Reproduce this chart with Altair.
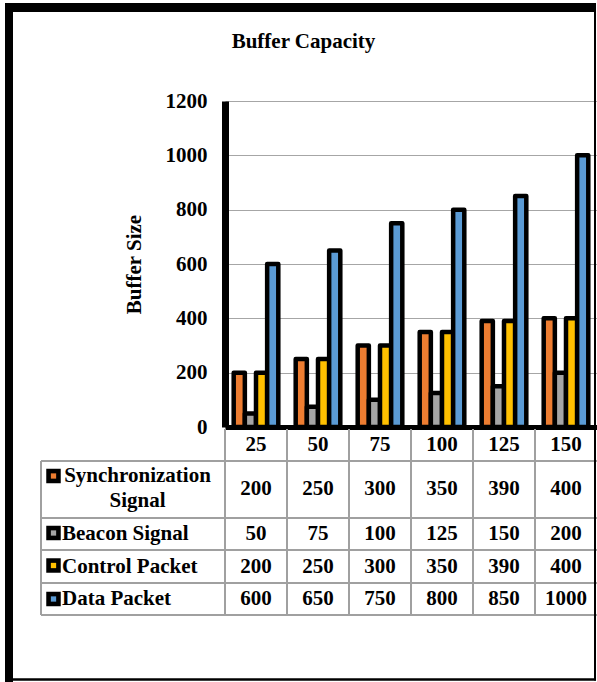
import altair as alt
import pandas as pd

# ---- data -------------------------------------------------------------
categories = ["25", "50", "75", "100", "125", "150"]
series_names = ["Synchronization Signal", "Beacon Signal", "Control Packet", "Data Packet"]
sync_signal = [200, 250, 300, 350, 390, 400]
beacon_signal = [50, 75, 100, 125, 150, 200]
control_packet = [200, 250, 300, 350, 390, 400]
data_packet = [600, 650, 750, 800, 850, 1000]
y_ticks = [0, 200, 400, 600, 800, 1000, 1200]
series_colors = ["#ED7D31", "#A5A5A5", "#FFC000", "#5B9BD5"]

# ---- layout -----------------------------------------------------------
FONT = "Liberation Serif"
FS = 21
W, H = 372, 326            # plot area
PAD_L, PAD_T = 225, 101    # plot origin inside the 597x682 page
TOTAL_W, TOTAL_H = 597, 682
TABLE_LINE = "#a0a0a0"

# data-table rows, in pixels from the plot top
row_center = {"Synchronization Signal": 387.5, "Beacon Signal": 433,
              "Control Packet": 465.5, "Data Packet": 498}
key_center = {"Synchronization Signal": 375, "Beacon Signal": 432,
              "Control Packet": 464.5, "Data Packet": 498}
row_label = {"Synchronization Signal": "Synchronization\nSignal"}
table_lines_y = [360, 417, 449, 482, 514]
table_left = 41 - PAD_L
key_x = 53.5 - PAD_L
label_x = 62 - PAD_L

series_values = dict(zip(series_names, [sync_signal, beacon_signal, control_packet, data_packet]))
df = pd.DataFrame([
    {"series": s, "cat": c, "value": v, "row_y": row_center[s]}
    for s in series_names for c, v in zip(categories, series_values[s])
])
rows_df = pd.DataFrame({
    "series": series_names,
    "label": [row_label.get(s, s) for s in series_names],
    "row_y": [row_center[s] for s in series_names],
    "key_y": [key_center[s] for s in series_names],
})

color = alt.Color("series:N", scale=alt.Scale(domain=series_names, range=series_colors), legend=None)
x_scale = alt.Scale(paddingInner=0, paddingOuter=0)
# category axis: thick black baseline, labels form the header row of the table
x_axis = alt.Axis(domainColor="black", domainWidth=5, ticks=False, tickSize=0,
                  grid=False, labelAngle=0, labelFont=FONT, labelFontSize=FS,
                  labelFontWeight="bold", labelColor="black", labelPadding=17,
                  labelBaseline="middle", title=None)
x_enc = alt.X("cat:N", sort=categories, scale=x_scale, axis=x_axis, title=None)
txt = dict(font=FONT, fontSize=FS, fontWeight="bold", color="black")

# ---- bars -------------------------------------------------------------
bars = alt.Chart(df).mark_bar(stroke="black", strokeWidth=4.5, strokeJoin="round").encode(
    x=x_enc,
    xOffset=alt.XOffset("series:N", sort=series_names,
                        scale=alt.Scale(paddingInner=0, paddingOuter=0.78)),
    y=alt.Y("value:Q", scale=alt.Scale(domain=[0, 1200], nice=False),
            axis=alt.Axis(values=y_ticks, format="d", grid=True, gridColor="#a6a6a6",
                          gridWidth=1, domainColor="black", domainWidth=7,
                          ticks=False, tickSize=0,
                          labelFont=FONT, labelFontSize=FS, labelFontWeight="bold",
                          labelColor="black", labelPadding=18,
                          title="Buffer Size", titleFont=FONT, titleFontSize=FS,
                          titleFontWeight="bold", titleColor="black", titlePadding=21)),
    color=color,
)

# ---- data table -------------------------------------------------------
cell_values = alt.Chart(df).mark_text(baseline="middle", **txt).encode(
    x=x_enc,
    y=alt.Y("row_y:Q", scale=None, axis=None),
    text="value:Q",
)

col_dividers = alt.Chart(pd.DataFrame({"cat": categories})).mark_rule(
    color=TABLE_LINE, strokeWidth=2).encode(
    x=alt.X("cat:N", sort=categories, scale=x_scale, bandPosition=0, axis=x_axis),
    y=alt.value(H + 2), y2=alt.value(table_lines_y[-1]),
)

table_rules = []
for ly in table_lines_y:
    table_rules.append(alt.Chart().mark_rule(color=TABLE_LINE, strokeWidth=2).encode(
        x=alt.value(table_left), x2=alt.value(W), y=alt.value(ly)))
table_rules.append(alt.Chart().mark_rule(color=TABLE_LINE, strokeWidth=2).encode(
    x=alt.value(table_left), y=alt.value(table_lines_y[0]), y2=alt.value(table_lines_y[-1])))

key_outer = alt.Chart(rows_df).mark_square(size=210, color="black", opacity=1).encode(
    x=alt.value(key_x), y=alt.Y("key_y:Q", scale=None, axis=None))
key_inner = alt.Chart(rows_df).mark_square(size=28, opacity=1).encode(
    x=alt.value(key_x), y=alt.Y("key_y:Q", scale=None, axis=None), color=color)

labels_left = alt.Chart(rows_df).transform_filter(
    alt.datum.series != series_names[0]
).mark_text(align="left", baseline="middle", **txt).encode(
    x=alt.value(label_x), y=alt.Y("row_y:Q", scale=None, axis=None), text="label:N")
# two-line label: first line sits level with its key
labels_wrapped = alt.Chart(rows_df).transform_filter(
    alt.datum.series == series_names[0]
).mark_text(align="center", baseline="middle", lineBreak="\n", lineHeight=25, **txt).encode(
    x=alt.value(137.5 - PAD_L), y=alt.Y("key_y:Q", scale=None, axis=None), text="label:N")

# ---- title and outer frame --------------------------------------------
title = alt.Chart().mark_text(align="center", baseline="alphabetic", **txt).encode(
    x=alt.value(303.5 - PAD_L), y=alt.value(47.5 - PAD_T), text=alt.value("Buffer Capacity"))

frame = [
    alt.Chart().mark_rule(color="black", strokeWidth=9).encode(
        x=alt.value(5 - PAD_L), x2=alt.value(596 - PAD_L), y=alt.value(7.5 - PAD_T)),
    alt.Chart().mark_rule(color="black", strokeWidth=8).encode(
        x=alt.value(9 - PAD_L), y=alt.value(3 - PAD_T), y2=alt.value(TOTAL_H - PAD_T)),
    alt.Chart().mark_rule(color="black", strokeWidth=2).encode(
        x=alt.value(595 - PAD_L), y=alt.value(7.5 - PAD_T), y2=alt.value(680.5 - PAD_T)),
    alt.Chart().mark_rule(color="black", strokeWidth=2.5).encode(
        x=alt.value(9 - PAD_L), x2=alt.value(596 - PAD_L), y=alt.value(679.5 - PAD_T)),
]

chart = alt.layer(
    *table_rules, col_dividers, bars, cell_values, key_outer, key_inner,
    labels_left, labels_wrapped, title, *frame,
).properties(
    width=W, height=H,
    autosize=alt.AutoSizeParams(type="none"),
    padding={"left": PAD_L, "top": PAD_T, "right": TOTAL_W - PAD_L - W,
             "bottom": TOTAL_H - PAD_T - H},
    background="white",
).configure_view(stroke=None)

chart.save("out.html", embed_options={"renderer": "svg", "actions": False})
